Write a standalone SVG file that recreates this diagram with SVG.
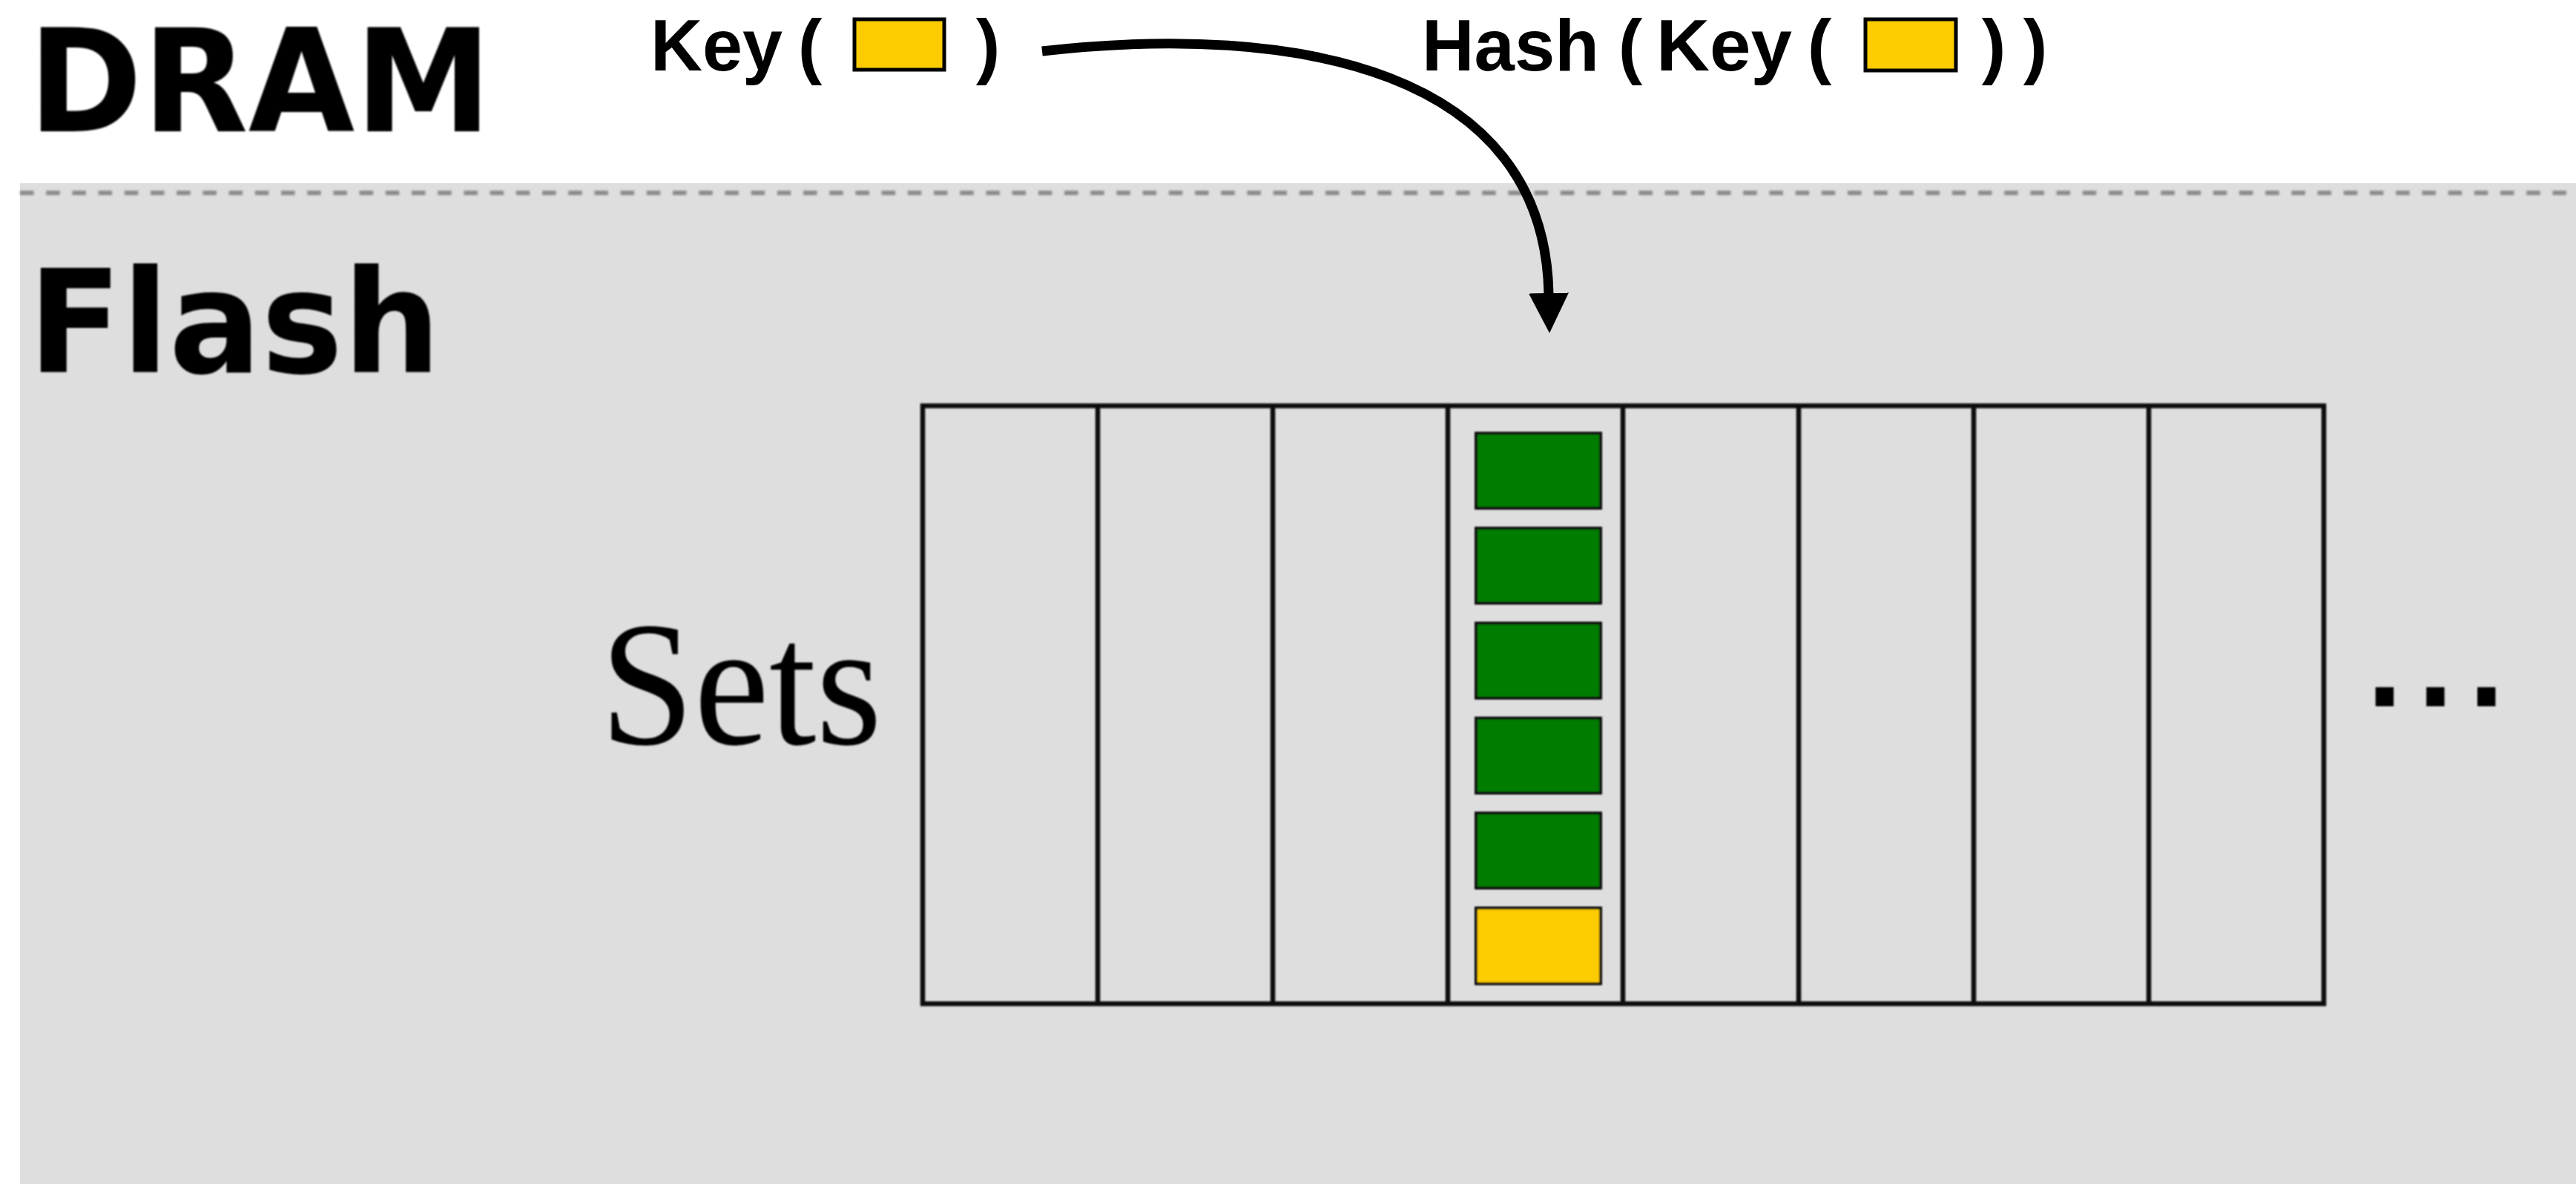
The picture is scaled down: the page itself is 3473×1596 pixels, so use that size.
<svg xmlns="http://www.w3.org/2000/svg" width="3473" height="1596" viewBox="0 0 3473 1596">
  <style>
    .tier { font-family: "DejaVu Sans", "Liberation Sans", sans-serif; font-weight: bold; font-size: 192px; fill: #000; }
    .func { font-family: "Liberation Sans", Arial, sans-serif; font-weight: bold; font-size: 98px; fill: #000; }
    .paren { text-anchor: middle; }
    .serif { font-family: "Liberation Serif", "Times New Roman", serif; font-size: 240px; fill: #000; }
    .grid { fill: none; stroke: #111; stroke-width: 6.5; }
    .slot { stroke: #111; stroke-width: 4; }
    .entry { fill: #017C01; }
    .key { fill: #FCCC00; }
    .keybox { fill: #FCCC00; stroke: #000; stroke-width: 5; }
    .link { fill: none; stroke: #000; stroke-width: 13; }
  </style>
  <defs>
    <filter id="soft" x="-5%" y="-5%" width="110%" height="110%">
      <feGaussianBlur stdDeviation="1.3"/>
    </filter>
    <filter id="softer" filterUnits="userSpaceOnUse" x="0" y="240" width="3473" height="40">
      <feGaussianBlur stdDeviation="1.8"/>
    </filter>
    <marker id="head" markerUnits="userSpaceOnUse" viewBox="0 0 54 54" markerWidth="54" markerHeight="54" refX="1" refY="27" orient="auto">
      <path d="M0,0 L54,27 L0,54 Z" fill="#000"/>
    </marker>
  </defs>

  <!-- white DRAM tier -->
  <rect x="0" y="0" width="3473" height="1596" fill="#fff"/>

  <!-- grey flash tier with its dashed boundary -->
  <g id="flash-tier">
    <rect x="27" y="247" width="3446" height="1349" fill="#DEDEDE"/>
    <line x1="27" y1="260" x2="3473" y2="260" stroke="#8a8a8a" stroke-width="6" stroke-dasharray="18.5 16.7" filter="url(#softer)"/>
  </g>

  <g id="dram-label" filter="url(#soft)">
    <text class="tier" x="38" y="177" textLength="625" lengthAdjust="spacingAndGlyphs">DRAM</text>
  </g>

  <g id="flash-label" filter="url(#soft)">
    <text class="tier" x="38" y="502" textLength="556" lengthAdjust="spacingAndGlyphs">Flash</text>
  </g>

  <!-- Key ( ■ ) -->
  <g id="key-label">
    <text class="func" x="877" y="95" textLength="178" lengthAdjust="spacingAndGlyphs">Key</text>
    <text class="func paren" x="1092" y="95">(</text>
    <rect class="keybox" x="1152" y="26" width="121" height="68"/>
    <text class="func paren" x="1332" y="95">)</text>
  </g>

  <!-- Hash ( Key ( ■ ) ) -->
  <g id="hash-label">
    <text class="func" x="1917" y="95" textLength="239" lengthAdjust="spacingAndGlyphs">Hash</text>
    <text class="func paren" x="2198" y="95">(</text>
    <text class="func" x="2233" y="95" textLength="183" lengthAdjust="spacingAndGlyphs">Key</text>
    <text class="func paren" x="2453" y="95">(</text>
    <rect class="keybox" x="2515" y="26" width="122" height="69"/>
    <text class="func paren" x="2688" y="95">)</text>
    <text class="func paren" x="2744" y="95">)</text>
  </g>

  <g id="sets-label" filter="url(#soft)">
    <text class="serif" x="809" y="1003" textLength="380" lengthAdjust="spacingAndGlyphs">Sets</text>
  </g>

  <!-- eight set columns -->
  <g id="set-table" filter="url(#soft)">
    <rect class="grid" x="1244" y="547" width="1889" height="806"/>
    <line class="grid" x1="1480" y1="547" x2="1480" y2="1353"/>
    <line class="grid" x1="1716" y1="547" x2="1716" y2="1353"/>
    <line class="grid" x1="1952" y1="547" x2="1952" y2="1353"/>
    <line class="grid" x1="2188" y1="547" x2="2188" y2="1353"/>
    <line class="grid" x1="2425" y1="547" x2="2425" y2="1353"/>
    <line class="grid" x1="2661" y1="547" x2="2661" y2="1353"/>
    <line class="grid" x1="2897" y1="547" x2="2897" y2="1353"/>
  </g>

  <!-- the set selected by the hash: five stored objects and the new key -->
  <g id="target-set" filter="url(#soft)">
    <rect class="slot entry" x="1990" y="584" width="168" height="101"/>
    <rect class="slot entry" x="1990" y="712" width="168" height="101"/>
    <rect class="slot entry" x="1990" y="840" width="168" height="101"/>
    <rect class="slot entry" x="1990" y="968" width="168" height="101"/>
    <rect class="slot entry" x="1990" y="1096" width="168" height="101"/>
    <rect class="slot key" x="1990" y="1224" width="168" height="102"/>
  </g>

  <g id="more-sets" filter="url(#soft)">
    <text x="3191" y="952" font-family="Liberation Sans, Arial, sans-serif" font-weight="bold" font-size="173" letter-spacing="20.5">...</text>
  </g>

  <g id="connectors">
    <path class="link" d="M1405,69 C1750,30 2082,95 2088,396" marker-end="url(#head)"/>
  </g>
</svg>
